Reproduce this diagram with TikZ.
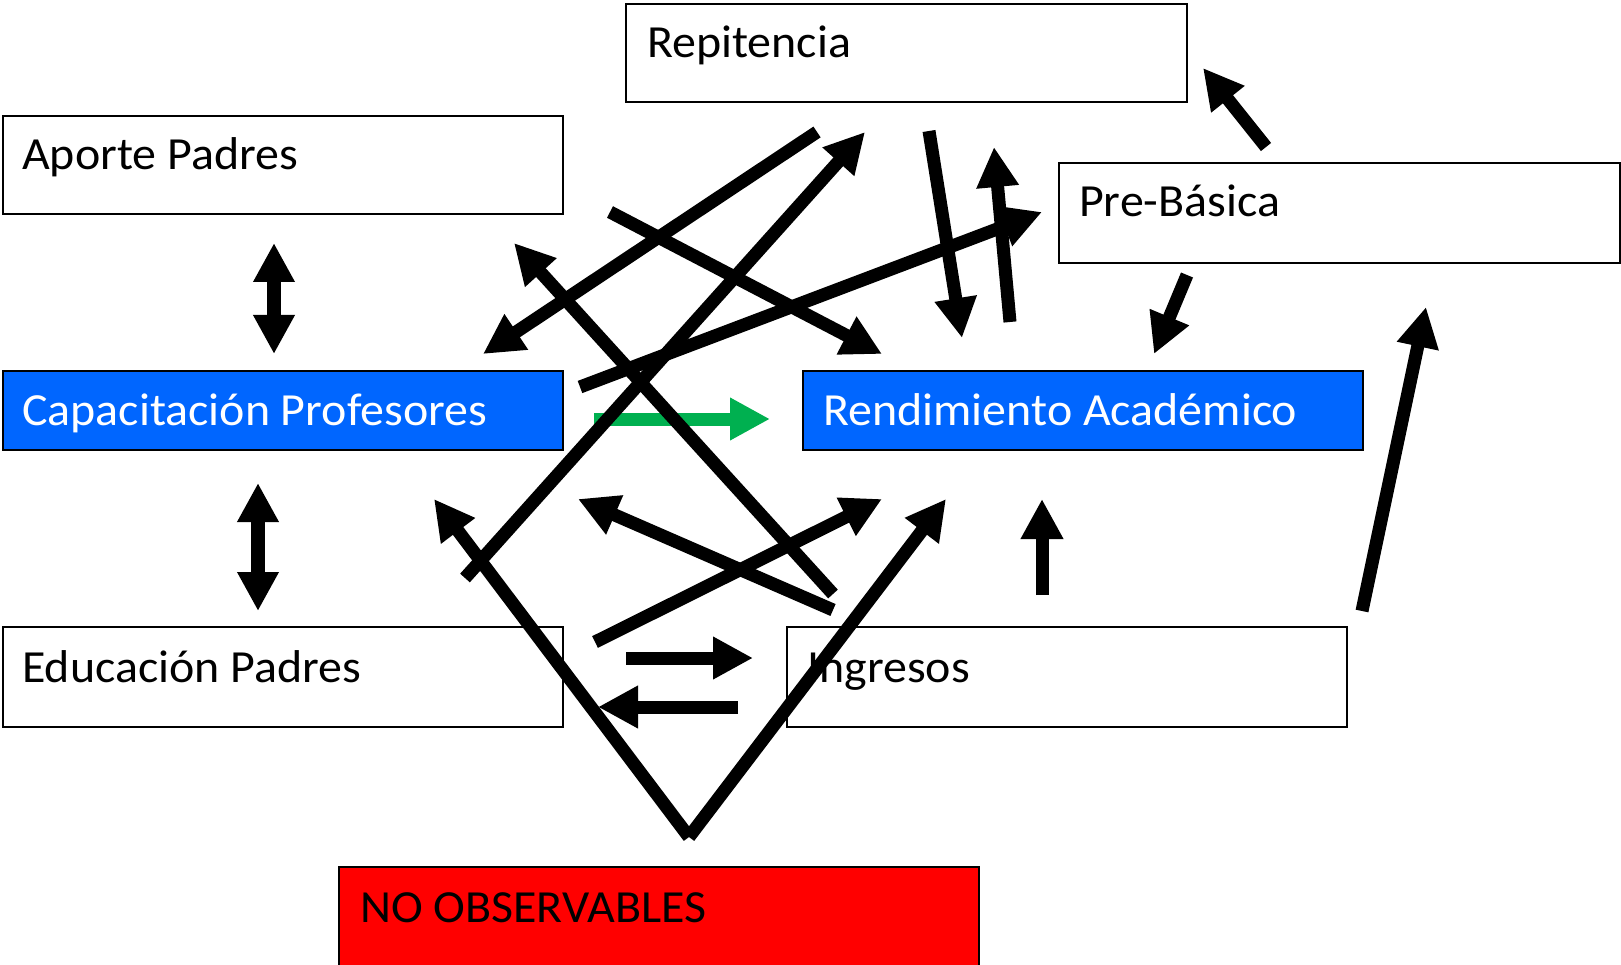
\documentclass[tikz,border=0pt]{standalone}
\usepackage{fontspec}
\setmainfont{Carlito}[FakeStretch=1.042]
\usetikzlibrary{arrows.meta}
\definecolor{boxblue}{RGB}{0,102,255}
\definecolor{boxred}{RGB}{255,0,0}
\definecolor{arrgreen}{RGB}{0,176,80}
\begin{document}
\begin{tikzpicture}[x=1pt,y=-1pt,
  box/.style={draw=black, line width=2.4pt, rectangle, anchor=north west, inner sep=0pt},
  wbox/.style={box, fill=white},
  bbox/.style={box, fill=boxblue},
  rbox/.style={box, fill=boxred},
  lbl/.style={anchor=base west, inner sep=0pt, font=\fontsize{46}{55}\selectfont},
  wlbl/.style={lbl, text=white},
  arr/.style={line width=13pt, -{Triangle[length=40pt,width=40pt]}},
  darr/.style={line width=14pt, {Triangle[length=39pt,width=39pt]}-{Triangle[length=39pt,width=39pt]}},
  garr/.style={arr, draw=arrgreen}]
\useasboundingbox[fill=white] (0,0) rectangle (1621,965);
% boxes
\node[wbox, minimum width=561pt, minimum height=98pt] (rep) at (625,3) {};
\node[lbl] (rept) at (647,58) {Repitencia};
\node[wbox, minimum width=560pt, minimum height=98pt] (apo) at (2,115) {};
\node[lbl] (apot) at (22,170) {Aporte Padres};
\node[wbox, minimum width=561pt, minimum height=100pt] (pre) at (1058,162) {};
\node[lbl] (pret) at (1079,217) {Pre-Básica};
\node[bbox, minimum width=560pt, minimum height=79pt] (cap) at (2,370) {};
\node[wlbl] (capt) at (22,425) {Capacitación Profesores};
\node[bbox, minimum width=560pt, minimum height=79pt] (ren) at (802,370) {};
\node[wlbl] (rent) at (823,425) {Rendimiento Académico};
\node[wbox, minimum width=560pt, minimum height=100pt] (edu) at (2,626) {};
\node[lbl] (edut) at (22,682) {Educación Padres};
\node[wbox, minimum width=560pt, minimum height=100pt] (ing) at (786,626) {};
\node[lbl] (ingt) at (807,682) {Ingresos};
\node[rbox, minimum width=640pt, minimum height=101pt] (nob) at (338,866) {};
\node[lbl] (nobt) at (360,922) {NO OBSERVABLES};
% arrow end points
\coordinate (a1s) at (274,243); \coordinate (a1e) at (274,354);
\coordinate (a2s) at (258,483); \coordinate (a2e) at (258,611);
\coordinate (a3s) at (594,419); \coordinate (a3e) at (770,419);
\coordinate (a4s) at (626,658); \coordinate (a4e) at (753,658);
\coordinate (a5s) at (738,707); \coordinate (a5e) at (598,707);
\coordinate (a6s) at (1042,595); \coordinate (a6e) at (1042,499);
\coordinate (a7s) at (1362,611); \coordinate (a7e) at (1426,307);
\coordinate (a8s) at (1187,275); \coordinate (a8e) at (1154,354);
\coordinate (a9s) at (1266,147); \coordinate (a9e) at (1203,68);
\coordinate (a10s) at (929,131); \coordinate (a10e) at (962,338);
\coordinate (a11s) at (1010,322); \coordinate (a11e) at (994,147);
\coordinate (a12s) at (580,387); \coordinate (a12e) at (1042,212);
\coordinate (a13s) at (817,132); \coordinate (a13e) at (483,354);
\coordinate (a14s) at (610,212); \coordinate (a14e) at (882,354);
\coordinate (a15s) at (833,594); \coordinate (a15e) at (514,243);
\coordinate (a16s) at (833,610); \coordinate (a16e) at (578,499);
\coordinate (a17s) at (595,642); \coordinate (a17e) at (882,499);
\coordinate (a18s) at (465,578); \coordinate (a18e) at (865,132);
\coordinate (nov) at (689,837);
\coordinate (a19e) at (434,499); \coordinate (a20e) at (946,499);
% arrows
\draw[garr] (a3s) -- (a3e);
\draw[darr] (a1s) -- (a1e);
\draw[darr] (a2s) -- (a2e);
\draw[arr] (a4s) -- (a4e);
\draw[arr] (a5s) -- (a5e);
\draw[arr] (a6s) -- (a6e);
\draw[arr] (a7s) -- (a7e);
\draw[arr] (a8s) -- (a8e);
\draw[arr] (a9s) -- (a9e);
\draw[arr] (a10s) -- (a10e);
\draw[arr] (a11s) -- (a11e);
\draw[arr] (a12s) -- (a12e);
\draw[arr] (a13s) -- (a13e);
\draw[arr] (a14s) -- (a14e);
\draw[arr] (a15s) -- (a15e);
\draw[arr] (a16s) -- (a16e);
\draw[arr] (a17s) -- (a17e);
\draw[arr] (a18s) -- (a18e);
\draw[arr] (nov) -- (a19e);
\draw[arr] (nov) -- (a20e);
\end{tikzpicture}
\end{document}
